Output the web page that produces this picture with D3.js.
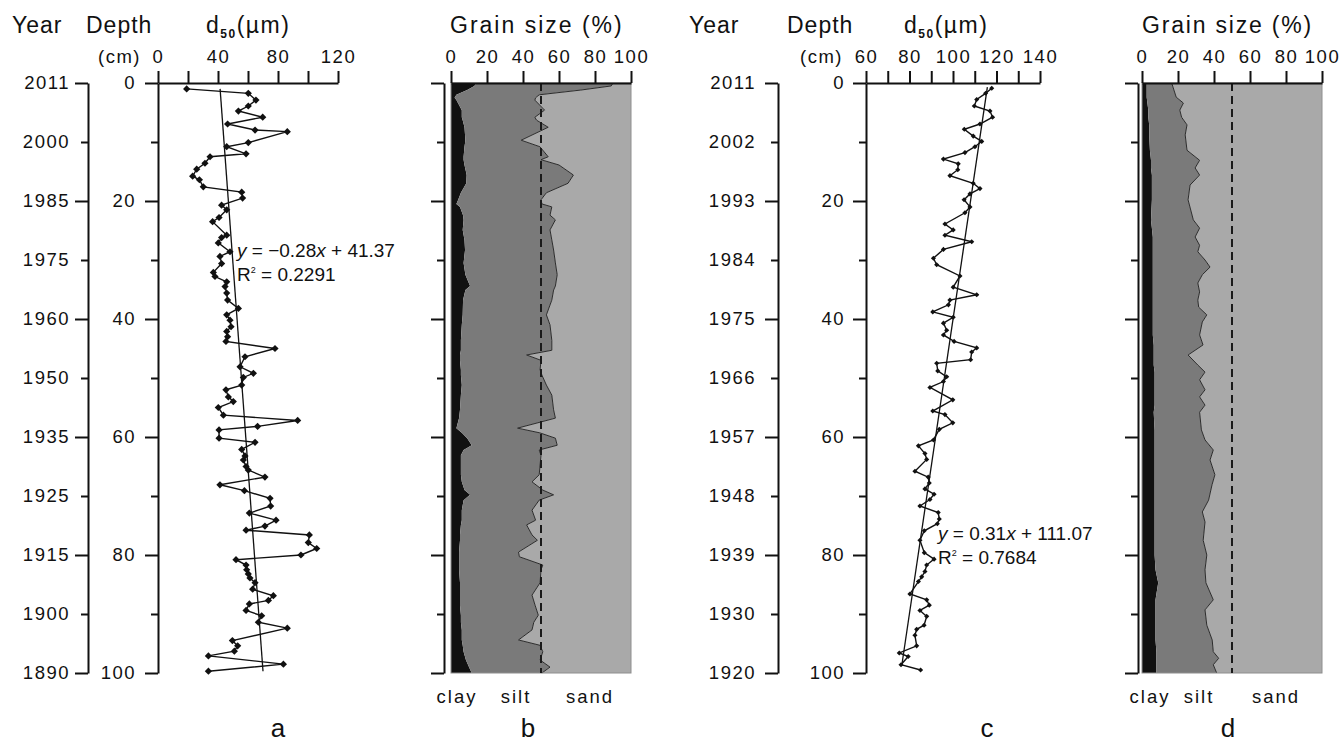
<!DOCTYPE html>
<html>
<head>
<meta charset="utf-8">
<script src="https://cdn.jsdelivr.net/npm/d3@7"></script>
<style>
  body { margin: 0; background: #fff; }
  text { font-family: "Liberation Sans", Arial, sans-serif; fill: #111; }
</style>
</head>
<body>
<svg id="chart" width="1339" height="742"></svg>
<script>
// ---- data ----
var depthTicks = d3.range(0, 101, 10);
var yearsA = [2011, 2000, 1985, 1975, 1960, 1950, 1935, 1925, 1915, 1900, 1890];
var yearsC = [2011, 2002, 1993, 1984, 1975, 1966, 1957, 1948, 1939, 1930, 1920];

// core a: median grain size (um) against depth (cm)
var depthA = [1.0,1.75,2.9,3.9,4.75,5.8,6.95,7.97,8.25,10.1,10.8,12.0,12.5,13.6,14.6,15.8,16.4,17.6,18.5,19.5,
  20.7,21.5,22.8,23.5,25.8,26.2,27.1,28.6,29.4,30.6,32.1,32.8,33.7,34.5,35.6,36.8,38.2,39.3,40.2,41.3,
  42.1,43.0,43.8,45.0,46.4,48.1,49.2,49.9,51.2,52.0,53.2,54.0,55.0,56.3,57.2,58.2,58.8,60.2,60.9,62.1,
  63.2,63.9,65.0,65.6,66.8,68.1,69.1,70.4,71.7,72.9,74.1,75.1,75.8,76.6,77.9,78.9,80.0,80.8,81.7,82.5,
  83.2,83.9,84.7,85.8,86.9,87.7,88.3,89.4,90.3,91.4,92.4,94.5,95.4,96.3,97.1,98.5,99.7];
var d50A = [19.1,60.2,65.3,60.2,53.6,69.8,46.4,64.7,86.2,60.2,45.8,58.7,34.7,31.3,25.8,23.1,27.6,30.2,55.8,56.4,
  42.4,45.8,40.7,36.4,45.8,42.4,40.2,48,41.3,42.4,36.9,38,45.8,44.7,45.8,46.4,53.6,45.8,48,48.7,
  45.8,46.4,45.3,78,58,54.7,63.6,56.9,55.8,45.3,46.9,50.2,40.2,43.6,93.1,66.4,40.7,40.7,64.7,55.8,
  58,56.9,58.7,60.2,71.3,41.3,57.6,74.7,75.1,60.9,78.7,71.3,58.7,100.9,100.2,105.8,95.3,52,58.7,59.1,
  60.2,61.3,64.7,63.1,76.9,73.6,60.9,58.7,69.1,66.9,86.2,49.6,53.1,50.9,33.6,83.6,33.6];
var trendDepthA = [1, 99.7];
var trendD50A = [41.4, 70];

// core c
var depthC = [0.9,1.75,2.8,3.9,4.75,5.8,6.95,7.85,9.0,9.9,10.8,11.8,12.9,13.7,14.7,15.7,17.0,17.9,18.8,19.8,
  21.0,22.0,23.9,24.9,25.8,26.9,28.2,29.7,30.8,32.7,34.6,35.9,36.8,37.6,38.8,39.7,40.7,41.9,42.7,43.8,
  44.9,45.6,46.9,47.5,48.8,49.8,50.6,51.6,53.7,55.6,56.2,57.6,58.7,60.5,61.5,62.8,63.8,65.8,66.8,67.8,
  68.8,69.7,70.6,71.7,72.8,73.9,74.7,75.9,77.5,79.6,80.7,81.7,82.8,83.7,84.5,86.6,87.6,88.5,89.4,90.4,
  91.9,92.6,93.6,95.4,96.6,97.2,98.6,99.5];
var d50C = [117.8,115.0,110.9,109.8,117.0,118.2,112.4,105.2,109.3,113.2,110.1,105.5,95.6,102.4,102.2,98.6,109.3,112.4,107.8,105.1,
  107.8,105.5,96.3,100.1,96.3,108.6,95.6,91.0,92.5,103.2,100.1,110.9,98.6,97.9,90.7,100.1,95.6,97.1,95.6,100.5,
  110.9,108.6,108.1,92.5,93.0,97.1,95.6,89.4,99.9,90.7,96.3,99.9,93.7,91.0,84.1,87.1,87.9,82.5,88.6,89.1,
  87.1,91.3,89.4,84.8,93.2,93.7,92.8,86.8,84.8,86.8,91.3,87.9,87.1,85.6,84.1,80.2,87.9,89.1,84.8,87.9,
  86.7,83.3,82.5,83.3,75.3,79.4,76.1,85.1];
var trendDepthC = [0.7, 98.6];
var trendD50C = [115.8, 76.5];

// grain size fractions (%) for core b
var depthB = [0,0.5,1.2,2.0,2.5,2.9,4.6,5.8,6.3,7.5,9.7,10.8,12.5,13.0,13.9,15.6,17.0,18.6,19.8,20.5,
  21.0,22.4,23.2,24.9,26.6,28.3,30.5,32.5,34.4,35.1,36.8,39.3,41.0,43.6,45.3,46.1,47.0,48.6,49.5,51.2,
  52.9,55.4,56.8,58.5,59.3,60.2,61.4,62.2,63.1,66.4,67.6,69.0,69.8,70.7,72.4,74.1,74.9,76.6,77.5,79.5,
  80.3,81.7,82.5,84.7,86.8,88.5,90.2,91.4,92.7,94.4,95.3,96.4,97.8,99.0,100];
var clayB = [14,13,9,3,2,3,6,6,6.5,7.5,8,7.5,7,7,7.5,8.7,8.5,5.5,4,3,
  5,6.7,7,6.5,7.5,7.8,7,8,10.6,8,6.7,6.5,6,5.5,5.5,5,5,5.5,5.5,6,
  5.5,5,4.5,3,6,9,11.5,7,5.5,5.5,6,7.5,10.6,7,6,6,5.5,5,5,4.5,
  4.5,4.5,4.5,5,5,5,5.5,5.5,6,6,6.5,7,8.3,10,11.5];
var siltB = [76,76,63,46,45,43.6,46,40.6,41,46.5,31,41.9,47,43,52.5,59.3,56.5,47.5,46,47.5,
  51,48.3,51,48.5,48.5,49.2,51,51,47.4,49,49.3,46.5,49,50.5,50.5,37,45,44,45,47,
  50.5,52,53.5,34,43.4,49,47.5,42,44.5,43.5,39,43.5,46.4,42,39,41,36.5,40,43,33,
  33.5,46.5,45.5,44.5,40,41.7,43,40.5,39,31.5,42.9,44,41.2,45,39];

// grain size fractions (%) for core d
var depthD = [0,2.4,3.4,4.6,5.8,7.1,8.8,11.4,13.1,14.4,15.6,17.3,19.8,23.2,24.6,26.1,27.5,28.6,30.0,31.2,
  32.5,33.9,35.4,36.8,38.0,39.3,40.5,42.7,44.4,46.1,47.8,49.0,50.3,52.0,53.2,54.6,55.8,58.8,60.5,62.2,
  63.9,66.4,68.1,70.7,72.7,74.4,77.5,80.0,82.5,84.7,87.6,89.3,91.9,94.4,96.4,97.5,98.6,100];
var clayD = [2.6,2.6,3,3.5,3.5,4,4,4.4,5,5,5.5,5.5,5.5,5,5.5,6,6,6,6,6,
  6,6,6,6,6,6,6,6,6.5,6.5,6.5,7,7,7,7,7,6.5,7,7,7,
  7,7,7,7,7,7,7,7,7.5,9,7.5,7.5,7.5,7.5,8,8,8,8];
var siltD = [13.9,16.4,20,17.5,18.5,21,20,20.6,27,24.5,26.5,21.2,20.1,23.5,26.5,23.5,26,25,29,31.8,
  27.5,25,26,25,25.5,30,27.5,26,27.4,19.1,24.5,28,25,28,25,28,25.5,26,28,32.6,
  30.8,33.5,31.9,30,26.5,28,27,29,27.5,26.5,32.1,27.5,28.5,31.5,31.6,34.6,31.6,33.5];

var fractionNames = ['clay', 'silt', 'sand'];
var fractionColors = ['#111111', '#7a7a7a', '#a9a9a9'];

// ---- scales ----
var svg = d3.select('#chart');
var y = d3.scaleLinear().domain([0, 100]).range([83, 673]);
var xA = d3.scaleLinear().domain([0, 120]).range([158, 338]);
var xB = d3.scaleLinear().domain([0, 100]).range([451, 631]);
var xC = d3.scaleLinear().domain([60, 140]).range([866, 1040]);
var xD = d3.scaleLinear().domain([0, 100]).range([1142, 1322]);

function styleAxis(g) {
  g.attr('font-family', null).attr('font-size', null);
  g.select('.domain').attr('stroke', '#111').attr('stroke-width', 2);
  g.selectAll('.tick line').attr('stroke', '#111').attr('stroke-width', 2);
  g.selectAll('.tick text').attr('font-size', 18.5).attr('letter-spacing', 1.5).attr('fill', '#111');
}

// vertical axis on depth; minor ticks every 10 are shorter
function depthAxis(x0, fmt, pad) {
  var g = svg.append('g').attr('transform', 'translate(' + x0 + ',0)')
    .call(d3.axisLeft(y).tickValues(depthTicks).tickSize(13).tickSizeOuter(0)
      .tickPadding(pad).tickFormat(fmt));
  g.selectAll('.tick line').filter(function (d) { return d % 20 !== 0; }).attr('x2', -7);
  styleAxis(g);
}

function topAxis(x, ticks, fmt) {
  var g = svg.append('g').attr('transform', 'translate(0,' + y(0) + ')')
    .call(d3.axisTop(x).tickValues(ticks).tickSize(12).tickSizeOuter(0)
      .tickPadding(8).tickFormat(fmt));
  styleAxis(g);
}

function d50Panel(x, depths, values, trendDepth, trendVal, markerSize) {
  var pts = depths.map(function (d, i) { return [d, values[i]]; });
  svg.append('path').datum(pts)
    .attr('d', d3.line().x(function (p) { return x(p[1]); }).y(function (p) { return y(p[0]); }))
    .attr('fill', 'none').attr('stroke', '#111').attr('stroke-width', 1.4);
  svg.append('line')
    .attr('x1', x(trendVal[0])).attr('y1', y(trendDepth[0]))
    .attr('x2', x(trendVal[1])).attr('y2', y(trendDepth[1]))
    .attr('stroke', '#111').attr('stroke-width', 1.3);
  svg.append('g').selectAll('path').data(pts).join('path')
    .attr('d', d3.symbol(d3.symbolSquare, markerSize))
    .attr('transform', function (p) { return 'translate(' + x(p[1]) + ',' + y(p[0]) + ') rotate(45)'; })
    .attr('fill', '#111');
}

function grainPanel(x, depths, clay, silt, axisX) {
  var rows = depths.map(function (d, i) {
    return { depth: d, clay: clay[i], silt: silt[i], sand: 100 - clay[i] - silt[i] };
  });
  var layers = d3.stack().keys(fractionNames)(rows);
  var area = d3.area()
    .y(function (d) { return y(d.data.depth); })
    .x0(function (d) { return x(d[0]); })
    .x1(function (d) { return x(d[1]); });
  svg.append('g').selectAll('path').data(layers).join('path')
    .attr('d', area)
    .attr('fill', function (d, i) { return fractionColors[i]; });
  svg.append('path').datum(layers[1])
    .attr('d', d3.line().y(function (d) { return y(d.data.depth); }).x(function (d) { return x(d[1]); }))
    .attr('fill', 'none').attr('stroke', '#2b2b2b').attr('stroke-width', 1);
  svg.append('rect')
    .attr('x', x(0)).attr('y', y(0)).attr('width', x(100) - x(0)).attr('height', y(100) - y(0))
    .attr('fill', 'none').attr('stroke', '#8e8e8e').attr('stroke-width', 1);
  svg.append('line')
    .attr('x1', x(50)).attr('x2', x(50)).attr('y1', y(0)).attr('y2', y(100))
    .attr('stroke', '#1a1a1a').attr('stroke-width', 2).attr('stroke-dasharray', '8,5');
  topAxis(x, d3.range(0, 101, 20), d3.format('d'));
  depthAxis(axisX, function () { return ''; }, 0);
}

// ---- panel a ----
d50Panel(xA, depthA, d50A, trendDepthA, trendD50A, 26);
depthAxis(88, function (d, i) { return yearsA[i]; }, 5);
depthAxis(158, function (d) { return d % 20 === 0 ? d : ''; }, 9);
topAxis(xA, d3.range(0, 121, 20), function (d) { return d % 40 === 0 ? d : ''; });

// ---- panel b ----
grainPanel(xB, depthB, clayB, siltB, 444);

// ---- panel c ----
d50Panel(xC, depthC, d50C, trendDepthC, trendD50C, 13);
depthAxis(778, function (d, i) { return yearsC[i]; }, 9);
depthAxis(866, function (d) { return d % 20 === 0 ? d : ''; }, 8);
topAxis(xC, d3.range(60, 141, 10), function (d) { return d % 20 === 0 ? d : ''; });

// ---- panel d ----
grainPanel(xD, depthD, clayD, siltD, 1138);

// ---- titles ----
function title(x, yy, str, ls) {
  return svg.append('text').attr('x', x).attr('y', yy).attr('font-size', 23)
    .attr('letter-spacing', ls).text(str);
}
title(12, 33, 'Year', 1);
title(86, 33, 'Depth', 1);
title(689, 33, 'Year', 1);
title(787, 33, 'Depth', 1);
title(450, 33, 'Grain size  (%)', 2);
title(1142, 33, 'Grain size (%)', 1.8);

function d50Title(x0) {
  var t = svg.append('text').attr('x', x0).attr('y', 33).attr('font-size', 23).attr('letter-spacing', 1.5);
  t.append('tspan').text('d');
  t.append('tspan').attr('font-size', 12).attr('font-weight', 'bold').attr('dy', 5).text('50');
  t.append('tspan').attr('dy', -5).text('(\u00b5m)');
}
d50Title(206);
d50Title(904);

svg.append('text').attr('x', 98).attr('y', 63).attr('font-size', 18.5).attr('letter-spacing', 1.5).text('(cm)');
svg.append('text').attr('x', 800).attr('y', 63).attr('font-size', 18.5).attr('letter-spacing', 1.5).text('(cm)');

// ---- regression labels ----
function eqn(x0, y0, slope, intercept, r2) {
  var t = svg.append('text').attr('x', x0).attr('y', y0).attr('font-size', 19);
  t.append('tspan').attr('font-style', 'italic').text('y');
  t.append('tspan').text(' = ' + slope);
  t.append('tspan').attr('font-style', 'italic').text('x');
  t.append('tspan').text(' + ' + intercept);
  var r = svg.append('text').attr('x', x0).attr('y', y0 + 24).attr('font-size', 19);
  r.append('tspan').text('R');
  r.append('tspan').attr('font-size', 9).attr('dy', -8).text('2');
  r.append('tspan').attr('dy', 8).text(' = ' + r2);
}
eqn(237, 257, '\u22120.28', '41.37', '0.2291');
eqn(938, 540, '0.31', '111.07', '0.7684');

// ---- fraction labels and panel letters ----
var fracLabelsB = [457, 516, 590];
var fracLabelsD = [1150, 1199, 1276];
fractionNames.forEach(function (n, i) {
  svg.append('text').attr('x', fracLabelsB[i]).attr('y', 703).attr('text-anchor', 'middle')
    .attr('font-size', 18.5).attr('letter-spacing', 2).text(n);
  svg.append('text').attr('x', fracLabelsD[i]).attr('y', 703).attr('text-anchor', 'middle')
    .attr('font-size', 18.5).attr('letter-spacing', 2).text(n);
});
var panelLetters = ['a', 'b', 'c', 'd'];
var panelLetterX = [278, 528, 987, 1228];
panelLetters.forEach(function (l, i) {
  svg.append('text').attr('x', panelLetterX[i]).attr('y', 737).attr('text-anchor', 'middle')
    .attr('font-size', 26).text(l);
});
</script>
</body>
</html>
